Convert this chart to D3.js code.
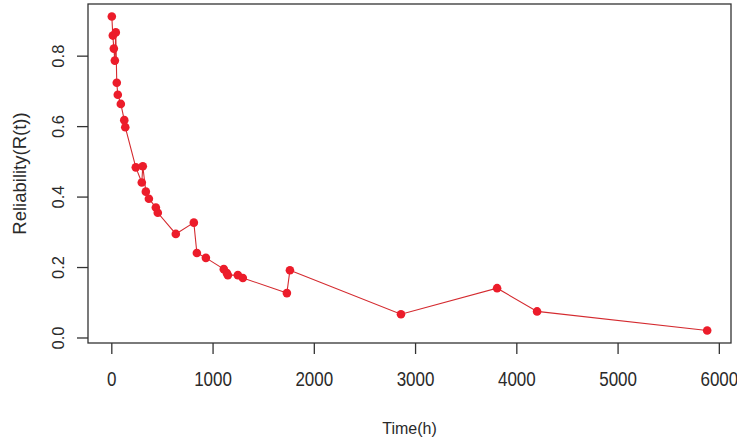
<!DOCTYPE html>
<html lang="en">
  <head>
    <meta charset="UTF-8" />
    <title>Reliability</title>
    <script src="https://d3js.org/d3.v7.min.js"></script>
    <style>
      body { margin: 0; background: #fff; }
      text { font-family: "Liberation Sans", Arial, sans-serif; fill: #2a2a2a; }
    </style>
  </head>
  <body>
    <script>
      // time (h) and reliability values
      const time = [5, 15, 25, 35, 44, 54, 64, 94, 128, 138, 242, 301, 311, 341, 371, 440, 459,
                    637, 815, 845, 934, 1111, 1141, 1151, 1250, 1299, 1734, 1764, 2861, 3810, 4205, 5885];
      const reliability = [0.911, 0.857, 0.82, 0.786, 0.866, 0.723, 0.689, 0.663, 0.617, 0.597, 0.483, 0.44, 0.486,
                           0.414, 0.394, 0.369, 0.354, 0.294, 0.326, 0.24, 0.226, 0.194, 0.183, 0.177, 0.177,
                           0.169, 0.126, 0.191, 0.066, 0.14, 0.074, 0.02];
      const xTicks = [0, 1000, 2000, 3000, 4000, 5000, 6000];
      const yTicks = [0.0, 0.2, 0.4, 0.6, 0.8];

      const width = 737;
      const height = 442;
      const m = { left: 88, right: 731, top: 4, bottom: 343 };

      const data = time.map((t, i) => ({ t: t, r: reliability[i] }));

      // R style 4% padding
      const pad = (ext) => {
        const d = (ext[1] - ext[0]) * 0.04;
        return [ext[0] - d, ext[1] + d];
      };
      const x = d3.scaleLinear().domain(pad(d3.extent(time))).range([m.left, m.right]);
      const y = d3.scaleLinear().domain(pad(d3.extent(reliability))).range([m.bottom, m.top]);

      const svg = d3.select("body").append("svg")
        .attr("width", width)
        .attr("height", height);

      // frame
      svg.append("rect")
        .attr("x", m.left).attr("y", m.top)
        .attr("width", m.right - m.left).attr("height", m.bottom - m.top)
        .attr("fill", "none").attr("stroke", "#333").attr("stroke-width", 1.3);

      // x axis
      const xAxis = svg.append("g")
        .attr("transform", `translate(0,${m.bottom})`)
        .call(d3.axisBottom(x).tickValues(xTicks).tickSize(11).tickPadding(0).tickFormat(d3.format("d")));
      xAxis.select(".domain").remove();
      xAxis.selectAll("line").attr("stroke", "#333").attr("stroke-width", 1.3);
      xAxis.selectAll("text")
        .attr("y", 0).attr("dy", 0)
        .attr("transform", "translate(0,43) scale(1,1.22)")
        .style("font-size", "17px")
        .style("font-family", "'Liberation Sans', Arial, sans-serif")
        .attr("fill", "#2a2a2a");

      // y axis
      const yAxis = svg.append("g")
        .attr("transform", `translate(${m.left},0)`)
        .call(d3.axisLeft(y).tickValues(yTicks).tickSize(11).tickFormat(d3.format(".1f")));
      yAxis.select(".domain").remove();
      yAxis.selectAll("line").attr("stroke", "#333").attr("stroke-width", 1.3);
      yAxis.selectAll("text")
        .attr("x", 0).attr("dy", 0)
        .attr("text-anchor", "middle")
        .attr("transform", "translate(-24,0) rotate(-90)")
        .style("font-size", "16.5px")
        .style("font-family", "'Liberation Sans', Arial, sans-serif")
        .attr("fill", "#2a2a2a");

      // axis titles
      svg.append("text")
        .attr("transform", `translate(${(m.left + m.right) / 2},434) scale(1,1.08)`)
        .attr("text-anchor", "middle")
        .style("font-size", "16px")
        .text("Time(h)");
      svg.append("text")
        .attr("transform", `translate(26,${(m.top + m.bottom) / 2}) rotate(-90)`)
        .attr("text-anchor", "middle")
        .style("font-size", "18.5px")
        .text("Reliability(R(t))");

      // line + points
      const line = d3.line().x(d => x(d.t)).y(d => y(d.r));
      svg.append("path")
        .datum(data)
        .attr("d", line)
        .attr("fill", "none")
        .attr("stroke", "#d42a2f")
        .attr("stroke-width", 1.1);

      svg.append("g").selectAll("circle")
        .data(data)
        .join("circle")
        .attr("cx", d => x(d.t))
        .attr("cy", d => y(d.r))
        .attr("r", 4.3)
        .attr("fill", "#ec1c2a");
    </script>
  </body>
</html>
